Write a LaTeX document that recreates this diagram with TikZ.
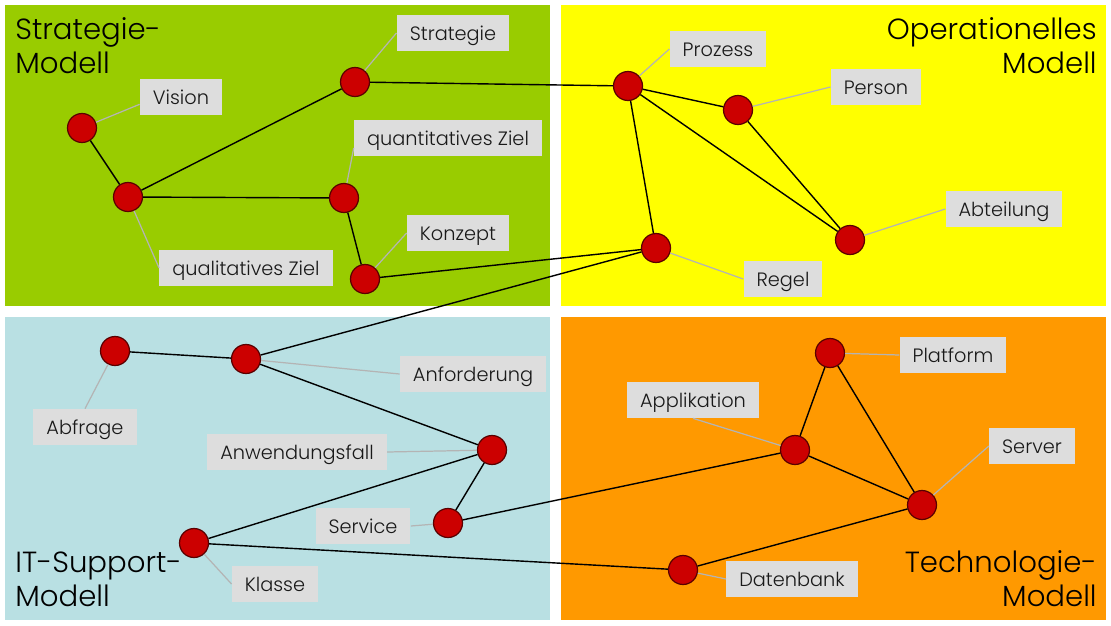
\documentclass[tikz,border=0pt]{standalone}
\usepackage{fontspec}
\setmainfont{Poppins}[UprightFont=*-Light]
\definecolor{stratgreen}{HTML}{99CC00}
\definecolor{opyellow}{HTML}{FFFF00}
\definecolor{itblue}{HTML}{B9E0E3}
\definecolor{techorange}{HTML}{FF9900}
\definecolor{dotred}{HTML}{CC0000}
\definecolor{dotrim}{HTML}{5A0000}
\definecolor{tagbg}{HTML}{DDDDDD}
\definecolor{leadgray}{HTML}{B4B4B4}
\tikzset{>=stealth}
\tikzset{
  dot/.style = {circle, fill=dotred, draw=dotrim, line width=0.7pt, minimum size=0.58cm, inner sep=0pt},
  tag/.style = {fill=tagbg, inner xsep=0.26cm, inner ysep=0pt, minimum height=0.72cm, text height=11.4pt, text depth=2.6pt, text=black!90, font=\fontsize{11}{13}\selectfont},
  link/.style = {line width=0.8pt, black},
  lead/.style = {line width=0.7pt, leadgray},
  title/.style = {inner sep=0pt, text=black, font=\fontsize{16.6}{19.3}\selectfont}
}

\begin{document}
\begin{tikzpicture}[x=0.02cm, y=-0.02cm]
    \useasboundingbox (0,0) rectangle (1111,625);
    \fill [stratgreen] (5,5) rectangle (550,306);
    \fill [opyellow] (561,5) rectangle (1106,306);
    \fill [itblue] (5,317) rectangle (550,620);
    \fill [techorange] (561,317) rectangle (1106,620);

    \node [title, anchor=north west, align=left] (hstrat) at (15,17) {Strategie-\\Modell};
    \node [title, anchor=north east, align=right] (hop) at (1097,17) {Operationelles\\Modell};
    \node [title, anchor=south west, align=left] (hit) at (15,607) {IT-Support-\\Modell};
    \node [title, anchor=south east, align=right] (htech) at (1097,607) {Technologie-\\Modell};

    \node [dot] (vis) at (82,128) {};
    \node [dot] (qual) at (128,197) {};
    \node [dot] (strat) at (355,82) {};
    \node [dot] (quant) at (344,198) {};
    \node [dot] (konz) at (365,279) {};
    \node [dot] (proz) at (628,86) {};
    \node [dot] (pers) at (738,110) {};
    \node [dot] (abt) at (850,240) {};
    \node [dot] (regel) at (656,248) {};
    \node [dot] (abfr) at (115,351) {};
    \node [dot] (anf) at (246,359) {};
    \node [dot] (anw) at (492,450) {};
    \node [dot] (serv) at (448,523) {};
    \node [dot] (klasse) at (194,543) {};
    \node [dot] (daten) at (683,570) {};
    \node [dot] (appl) at (795,450) {};
    \node [dot] (platf) at (830,353) {};
    \node [dot] (server) at (922,505) {};

    \node [tag] (tstrat) at (453,33) {Strategie};
    \node [tag] (tvis) at (181,97) {Vision};
    \node [tag] (tquant) at (448,138) {quantitatives Ziel};
    \node [tag] (tkonz) at (458,233) {Konzept};
    \node [tag] (tqual) at (246,268) {qualitatives Ziel};
    \node [tag] (tproz) at (718,49) {Prozess};
    \node [tag] (tpers) at (876,87) {Person};
    \node [tag] (tabt) at (1004,209) {Abteilung};
    \node [tag] (tregel) at (783,279) {Regel};
    \node [tag] (tanf) at (473,374) {Anforderung};
    \node [tag] (tabfr) at (85,427) {Abfrage};
    \node [tag] (tanw) at (297,452) {Anwendungsfall};
    \node [tag] (tserv) at (363,526) {Service};
    \node [tag] (tklasse) at (275,584) {Klasse};
    \node [tag] (tplatf) at (953,355) {Platform};
    \node [tag] (tappl) at (693,400) {Applikation};
    \node [tag] (tserver) at (1032,446) {Server};
    \node [tag] (tdaten) at (792,579) {Datenbank};

    \draw [lead] (vis) -- (tvis.190);
    \draw [lead] (qual) -- (tqual.west);
    \draw [lead] (strat) -- (tstrat.west);
    \draw [lead] (quant) -- (tquant.186);
    \draw [lead] (konz) -- (tkonz.west);
    \draw [lead] (proz) -- (tproz.west);
    \draw [lead] (pers) -- (tpers.west);
    \draw [lead] (abt) -- (tabt.west);
    \draw [lead] (regel) -- (tregel.west);
    \draw [lead] (abfr) -- (tabfr.north);
    \draw [lead] (anf) -- (tanf.west);
    \draw [lead] (anw) -- (tanw.east);
    \draw [lead] (serv) -- (tserv.east);
    \draw [lead] (klasse) -- (tklasse.west);
    \draw [lead] (platf) -- (tplatf.west);
    \draw [lead] (appl) -- (tappl.south);
    \draw [lead] (server) -- (tserver.west);
    \draw [lead] (daten) -- (tdaten.west);

    \draw [link] (vis) -- (qual);
    \draw [link] (qual) -- (strat);
    \draw [link] (qual) -- (quant);
    \draw [link] (quant) -- (konz);
    \draw [link] (strat) -- (proz);
    \draw [link] (konz) -- (regel);
    \draw [link] (proz) -- (pers);
    \draw [link] (proz) -- (abt);
    \draw [link] (pers) -- (abt);
    \draw [link] (proz) -- (regel);
    \draw [link] (regel) -- (anf);
    \draw [link] (abfr) -- (anf);
    \draw [link] (anf) -- (anw);
    \draw [link] (anw) -- (serv);
    \draw [link] (anw) -- (klasse);
    \draw [link] (serv) -- (appl);
    \draw [link] (klasse) -- (daten);
    \draw [link] (daten) -- (server);
    \draw [link] (appl) -- (server);
    \draw [link] (appl) -- (platf);
    \draw [link] (platf) -- (server);
\end{tikzpicture}
\end{document}
